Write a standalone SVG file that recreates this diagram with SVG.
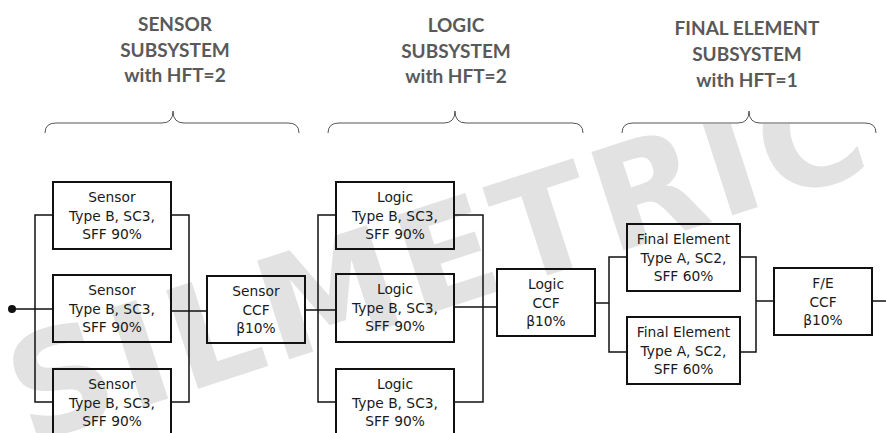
<svg xmlns="http://www.w3.org/2000/svg" width="886" height="433" viewBox="0 0 886 433">
<defs>
<clipPath id="wmclip"><rect x="0" y="124" width="886" height="309"/></clipPath>
</defs>
<style>
.wm{font-family:"DejaVu Sans",Verdana,sans-serif;font-weight:bold;font-size:142px;fill:#e2e2e2}
.title{font-family:Lato,"Open Sans",sans-serif;font-weight:bold;font-size:19px;fill:#595959;text-anchor:middle}
.brace{fill:none;stroke:#555;stroke-width:1}
.box{fill:none;stroke:#111;stroke-width:2}
.lbl{font-family:"DejaVu Sans",Verdana,sans-serif;font-size:13.8px;fill:#1a1a1a;text-anchor:middle}
.wire{fill:none;stroke:#111;stroke-width:1.5}
</style>
<rect width="886" height="433" fill="#fff"/>
<g clip-path="url(#wmclip)">
<text class="wm" x="28" y="444" transform="rotate(-18 28 444)" textLength="890" lengthAdjust="spacing">SILMETRIC</text>
</g>

<g id="titles">
<text class="title" x="175" y="31">SENSOR</text>
<text class="title" x="175" y="57">SUBSYSTEM</text>
<text class="title" x="175" y="82">with HFT=2</text>
<text class="title" x="456" y="32">LOGIC</text>
<text class="title" x="456" y="58">SUBSYSTEM</text>
<text class="title" x="456" y="83">with HFT=2</text>
<text class="title" x="747" y="35">FINAL ELEMENT</text>
<text class="title" x="747" y="61">SUBSYSTEM</text>
<text class="title" x="747" y="87">with HFT=1</text>
</g>
<g id="braces">
<path class="brace" d="M45,133 Q45,123 56,123 L162,123 Q173,123 173,111 Q173,123 184,123 L288,123 Q299,123 299,133"/>
<path class="brace" d="M328,133 Q328,123 339,123 L444,123 Q455,123 455,111 Q455,123 466,123 L572,123 Q583,123 583,133"/>
<path class="brace" d="M622,133 Q622,123 633,123 L738,123 Q749,123 749,111 Q749,123 760,123 L865,123 Q876,123 876,133"/>
</g>

<g id="connectors">
<circle cx="12" cy="309" r="4" fill="#111"/>
<path class="wire" d="M12,309 H53"/>
<path class="wire" d="M53,215 H35 V402 H53"/>
<path class="wire" d="M171,215 H189 V402 H171"/>
<path class="wire" d="M171,311 H207"/>
<path class="wire" d="M305,310 H336"/>
<path class="wire" d="M336,215 H318 V402 H336"/>
<path class="wire" d="M454,215 H483 V402 H454"/>
<path class="wire" d="M454,307 H497"/>
<path class="wire" d="M595,303 H609"/>
<path class="wire" d="M627,257 H609 V352 H627"/>
<path class="wire" d="M740,257 H756 V352 H740"/>
<path class="wire" d="M756,301 H774"/>
<path class="wire" d="M872,301 H886"/>
</g>

<g id="sensor1"><rect class="box" x="53" y="182" width="118" height="67"/>
<text class="lbl" x="112" y="202">Sensor</text><text class="lbl" x="112" y="220.5">Type B, SC3,</text><text class="lbl" x="112" y="239">SFF 90%</text></g>
<g id="sensor2"><rect class="box" x="53" y="275" width="118" height="67"/>
<text class="lbl" x="112" y="295">Sensor</text><text class="lbl" x="112" y="313.5">Type B, SC3,</text><text class="lbl" x="112" y="332">SFF 90%</text></g>
<g id="sensor3"><rect class="box" x="53" y="369" width="118" height="67"/>
<text class="lbl" x="112" y="389">Sensor</text><text class="lbl" x="112" y="407.5">Type B, SC3,</text><text class="lbl" x="112" y="426">SFF 90%</text></g>
<g id="sensorccf"><rect class="box" x="207" y="276" width="98" height="67"/>
<text class="lbl" x="256" y="296">Sensor</text><text class="lbl" x="256" y="314.5">CCF</text><text class="lbl" x="256" y="333">β10%</text></g>

<g id="logic1"><rect class="box" x="336" y="182" width="118" height="67"/>
<text class="lbl" x="395" y="202">Logic</text><text class="lbl" x="395" y="220.5">Type B, SC3,</text><text class="lbl" x="395" y="239">SFF 90%</text></g>
<g id="logic2"><rect class="box" x="336" y="274" width="118" height="68"/>
<text class="lbl" x="395" y="294">Logic</text><text class="lbl" x="395" y="312.5">Type B, SC3,</text><text class="lbl" x="395" y="331">SFF 90%</text></g>
<g id="logic3"><rect class="box" x="336" y="369" width="118" height="67"/>
<text class="lbl" x="395" y="389">Logic</text><text class="lbl" x="395" y="407.5">Type B, SC3,</text><text class="lbl" x="395" y="426">SFF 90%</text></g>
<g id="logicccf"><rect class="box" x="497" y="269" width="98" height="67"/>
<text class="lbl" x="546" y="289">Logic</text><text class="lbl" x="546" y="307.5">CCF</text><text class="lbl" x="546" y="326">β10%</text></g>

<g id="fe1"><rect class="box" x="627" y="224" width="113" height="67"/>
<text class="lbl" x="683.5" y="244">Final Element</text><text class="lbl" x="683.5" y="262.5">Type A, SC2,</text><text class="lbl" x="683.5" y="281">SFF 60%</text></g>
<g id="fe2"><rect class="box" x="627" y="317" width="113" height="67"/>
<text class="lbl" x="683.5" y="337">Final Element</text><text class="lbl" x="683.5" y="355.5">Type A, SC2,</text><text class="lbl" x="683.5" y="374">SFF 60%</text></g>
<g id="feccf"><rect class="box" x="774" y="268" width="98" height="67"/>
<text class="lbl" x="823" y="288">F/E</text><text class="lbl" x="823" y="306.5">CCF</text><text class="lbl" x="823" y="325">β10%</text></g>
</svg>
